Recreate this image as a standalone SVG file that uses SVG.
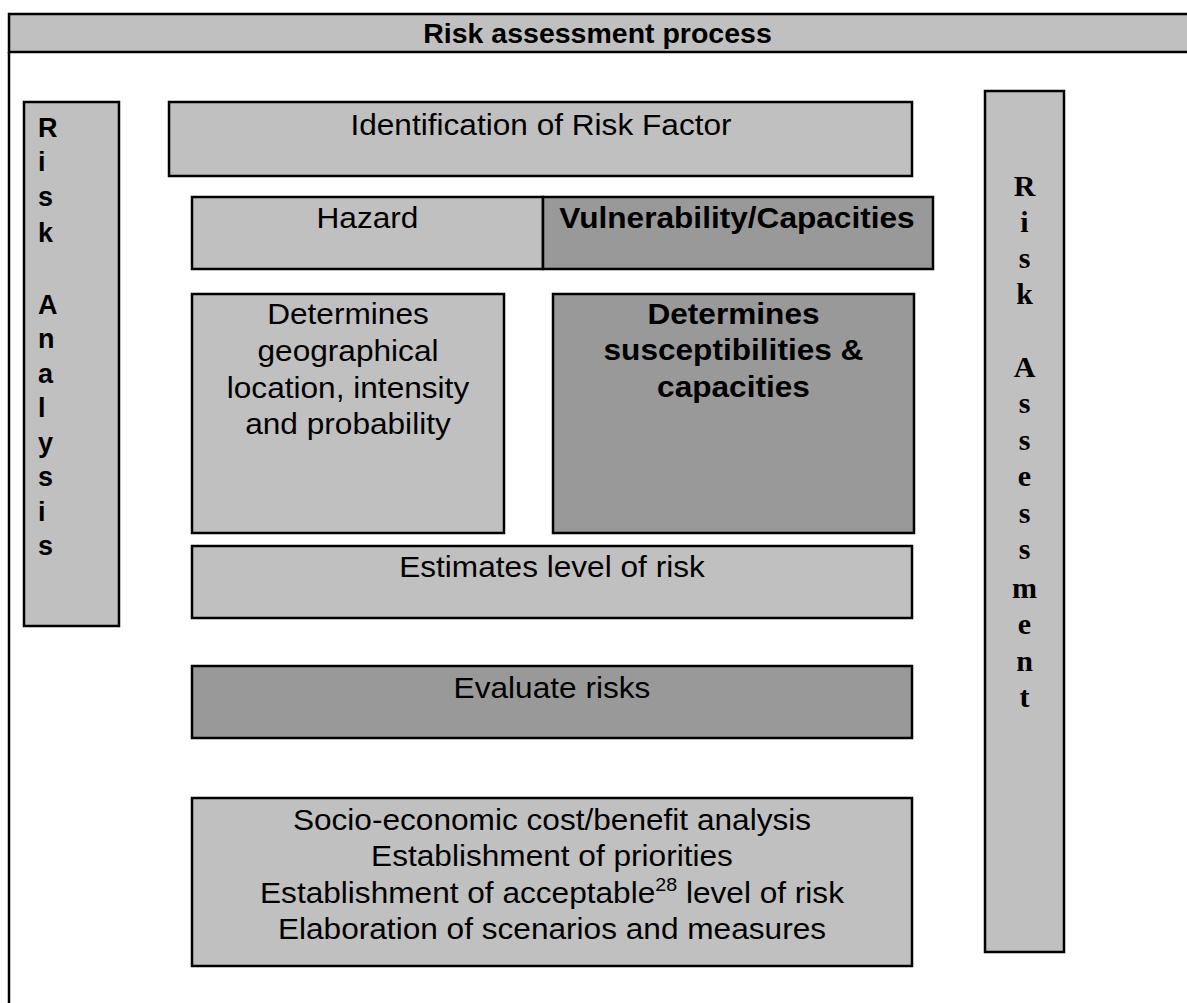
<svg xmlns="http://www.w3.org/2000/svg" width="1187" height="1003" viewBox="0 0 1187 1003">
<style>
.lt{fill:#c0c0c0;stroke:#000;stroke-width:2.5}
.dk{fill:#999999;stroke:#000;stroke-width:2.5}
.t{font-family:"Liberation Sans",Arial,sans-serif;font-size:29px;fill:#000;text-anchor:middle}
.b{font-weight:bold}
.h{font-family:"Liberation Sans",Arial,sans-serif;font-size:28.5px;font-weight:bold;fill:#000;text-anchor:middle}
.sl{font-family:"Liberation Sans",Arial,sans-serif;font-size:27px;font-weight:bold;fill:#000}
.sr{font-family:"Liberation Serif","Times New Roman",serif;font-size:30px;font-weight:bold;fill:#000;text-anchor:middle}
</style>
<rect width="1187" height="1003" fill="#fff"/>
<g id="frame">
<rect class="lt" x="9" y="14" width="1190" height="38"/>
<line x1="9" y1="52" x2="9" y2="1003" stroke="#000" stroke-width="2.5"/>
<text class="h" x="597.5" y="43">Risk assessment process</text>
</g>
<g id="risk-analysis">
<rect class="lt" x="24" y="102" width="95" height="524"/>
<text class="sl" x="38" y="137">R</text>
<text class="sl" x="38" y="171">i</text>
<text class="sl" x="38" y="206">s</text>
<text class="sl" x="38" y="242">k</text>
<text class="sl" x="38" y="314">A</text>
<text class="sl" x="38" y="348">n</text>
<text class="sl" x="38" y="383">a</text>
<text class="sl" x="38" y="417">l</text>
<text class="sl" x="38" y="452">y</text>
<text class="sl" x="38" y="486">s</text>
<text class="sl" x="38" y="521">i</text>
<text class="sl" x="38" y="555">s</text>
</g>
<g id="risk-assessment">
<rect class="lt" x="985" y="91" width="79" height="861"/>
<text class="sr" x="1024.5" y="196">R</text>
<text class="sr" x="1024.5" y="232">i</text>
<text class="sr" x="1024.5" y="268">s</text>
<text class="sr" x="1024.5" y="304">k</text>
<text class="sr" x="1024.5" y="377">A</text>
<text class="sr" x="1024.5" y="413">s</text>
<text class="sr" x="1024.5" y="450">s</text>
<text class="sr" x="1024.5" y="486">e</text>
<text class="sr" x="1024.5" y="523">s</text>
<text class="sr" x="1024.5" y="559">s</text>
<text class="sr" x="1024.5" y="598">m</text>
<text class="sr" x="1024.5" y="634">e</text>
<text class="sr" x="1024.5" y="671">n</text>
<text class="sr" x="1024.5" y="707">t</text>
</g>
<g id="identification">
<rect class="lt" x="169" y="102" width="743" height="74"/>
<text class="t" x="541" y="135" transform="matrix(1.09 0 0 1 -48.69 0)">Identification of Risk Factor</text>
</g>
<g id="hazard">
<rect class="lt" x="192" y="197" width="351" height="72"/>
<text class="t" x="367.5" y="228" transform="matrix(1.09 0 0 1 -33.08 0)">Hazard</text>
</g>
<g id="vulnerability">
<rect class="dk" x="543" y="197" width="390" height="72"/>
<text class="t b" x="737" y="228" transform="matrix(1.09 0 0 1 -66.33 0)">Vulnerability/Capacities</text>
</g>
<g id="determines-geo">
<rect class="lt" x="192" y="294" width="312" height="239"/>
<g transform="matrix(1.09 0 0 1 -31.32 0)">
<text class="t" x="348" y="324">Determines</text>
<text class="t" x="348" y="361">geographical</text>
<text class="t" x="348" y="398">location, intensity</text>
<text class="t" x="348" y="434">and probability</text>
</g>
</g>
<g id="determines-susc">
<rect class="dk" x="553" y="294" width="361" height="239"/>
<g transform="matrix(1.09 0 0 1 -66.02 0)">
<text class="t b" x="733.5" y="324">Determines</text>
<text class="t b" x="733.5" y="360.5">susceptibilities &amp;</text>
<text class="t b" x="733.5" y="397">capacities</text>
</g>
</g>
<g id="estimates">
<rect class="lt" x="192" y="546" width="720" height="72"/>
<text class="t" x="552" y="577" transform="matrix(1.09 0 0 1 -49.68 0)">Estimates level of risk</text>
</g>
<g id="evaluate">
<rect class="dk" x="192" y="666" width="720" height="72"/>
<text class="t" x="552" y="698" transform="matrix(1.09 0 0 1 -49.68 0)">Evaluate risks</text>
</g>
<g id="socio">
<rect class="lt" x="192" y="798" width="720" height="168"/>
<g transform="matrix(1.09 0 0 1 -49.68 0)">
<text class="t" x="552" y="830">Socio-economic cost/benefit analysis</text>
<text class="t" x="552" y="866">Establishment of priorities</text>
<text class="t" x="552" y="903">Establishment of acceptable<tspan font-size="18" dy="-12">28</tspan><tspan dy="12"> level of risk</tspan></text>
<text class="t" x="552" y="939">Elaboration of scenarios and measures</text>
</g>
</g>
<g id="connectors"/>
</svg>
